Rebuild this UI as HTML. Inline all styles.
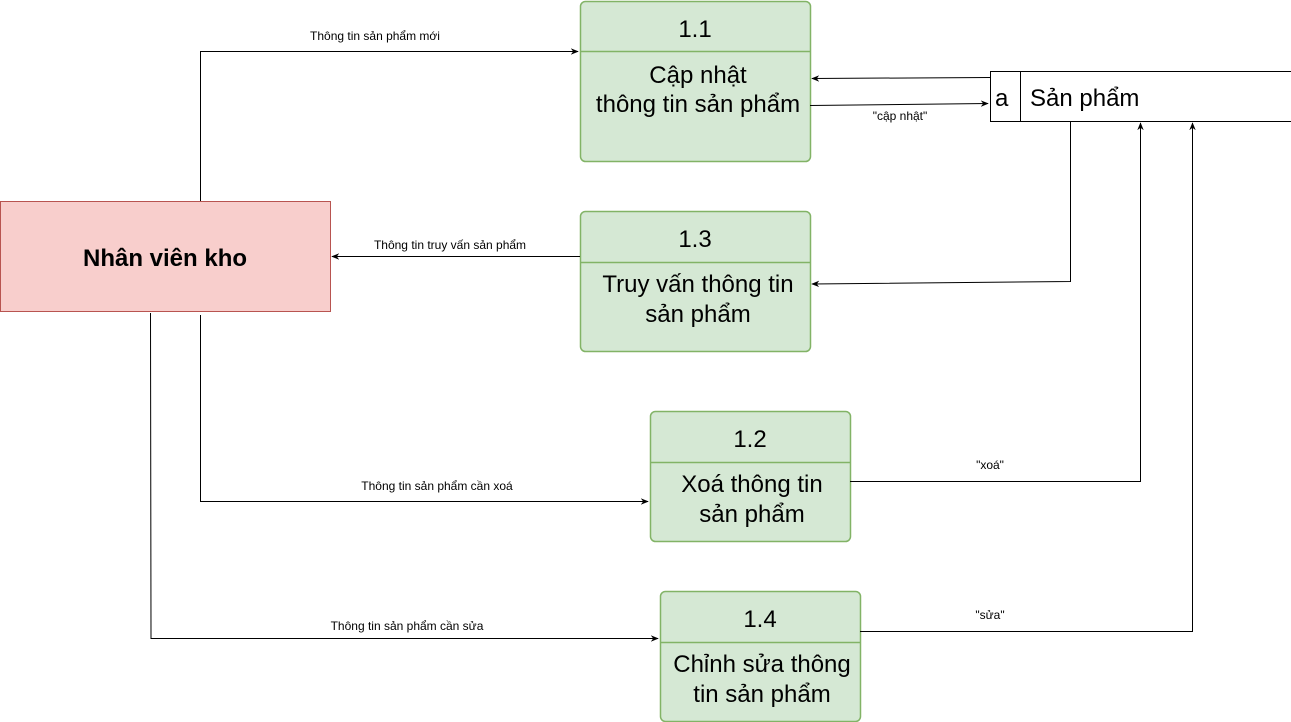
<!DOCTYPE html>
<html><head><meta charset="utf-8"><style>
html,body{margin:0;padding:0;background:#fff;width:1291px;height:722px;overflow:hidden}
svg{display:block}
text{font-family:"Liberation Sans",sans-serif;fill:#000}
.t{font-size:24px;text-anchor:middle}
.l{font-size:12px;text-anchor:middle}
.p{fill:#d5e8d4;stroke:#82b366;stroke-width:1.5}
.e{fill:none;stroke:#000;stroke-width:1}
</style></head><body>
<svg width="1291" height="722" viewBox="0 0 1291 722">
<defs><marker id="a" viewBox="0 0 10 10" refX="9" refY="5" markerWidth="8" markerHeight="8" orient="auto" markerUnits="userSpaceOnUse"><path d="M0,1 L10,5 L0,9 L3,5 z" fill="#000"/></marker></defs>

<rect x="0.5" y="201.5" width="330" height="110" fill="#f8cecc" stroke="#b85450"/>
<text x="165" y="266" font-size="24" font-weight="bold" text-anchor="middle">Nhân viên kho</text>

<rect class="p" x="580.5" y="1.5" width="230" height="160" rx="5"/>
<line x1="580.5" y1="51.5" x2="810.5" y2="51.5" stroke="#82b366" stroke-width="1.5"/>
<text class="t" x="695" y="37">1.1</text>
<text class="t" x="698" y="83">Cập nhật</text>
<text class="t" x="698" y="112">thông tin sản phẩm</text>

<rect class="p" x="580.5" y="211.5" width="230" height="140" rx="5"/>
<line x1="580.5" y1="262.5" x2="810.5" y2="262.5" stroke="#82b366" stroke-width="1.5"/>
<text class="t" x="695" y="247">1.3</text>
<text class="t" x="698" y="292">Truy vấn thông tin</text>
<text class="t" x="698" y="322">sản phẩm</text>

<rect class="p" x="650.5" y="411.5" width="200" height="130" rx="5"/>
<line x1="650.5" y1="462.5" x2="850.5" y2="462.5" stroke="#82b366" stroke-width="1.5"/>
<text class="t" x="750" y="447">1.2</text>
<text class="t" x="752" y="492">Xoá thông tin</text>
<text class="t" x="752" y="522">sản phẩm</text>

<rect class="p" x="660.5" y="591.5" width="200" height="130" rx="5"/>
<line x1="660.5" y1="642.5" x2="860.5" y2="642.5" stroke="#82b366" stroke-width="1.5"/>
<text class="t" x="760" y="627">1.4</text>
<text class="t" x="762" y="672">Chỉnh sửa thông</text>
<text class="t" x="762" y="702">tin sản phẩm</text>

<path class="e" d="M1291,71.5 H990.5 V121.5 H1291 M1020.5,71.5 V121.5"/>
<text x="995" y="106" font-size="24">a</text>
<text x="1030" y="106" font-size="24">Sản phẩm</text>

<path class="e" d="M200.5,201 V51.5 H578" marker-end="url(#a)"/>
<text class="l" x="375" y="40">Thông tin sản phẩm mới</text>

<path class="e" d="M990,77.5 L812,78.5" marker-end="url(#a)"/>
<path class="e" d="M810,105.5 L988,103.5" marker-end="url(#a)"/>
<text class="l" x="900" y="120">"cập nhật"</text>

<path class="e" d="M1070.5,121 V281.5 L812,284" marker-end="url(#a)"/>

<path class="e" d="M580,256.5 H332" marker-end="url(#a)"/>
<text class="l" x="450" y="249">Thông tin truy vấn sản phẩm</text>

<path class="e" d="M200.5,315 V501.5 H648" marker-end="url(#a)"/>
<text class="l" x="437" y="490">Thông tin sản phẩm cần xoá</text>

<path class="e" d="M850,481.5 H1140.5 V123" marker-end="url(#a)"/>
<text class="l" x="990" y="469">"xoá"</text>

<path class="e" d="M150.5,313 L151,638.5 H658" marker-end="url(#a)"/>
<text class="l" x="407" y="630">Thông tin sản phẩm cần sửa</text>

<path class="e" d="M860,631.5 H1192.5 V123" marker-end="url(#a)"/>
<text class="l" x="990" y="619">"sửa"</text>
</svg>
</body></html>
